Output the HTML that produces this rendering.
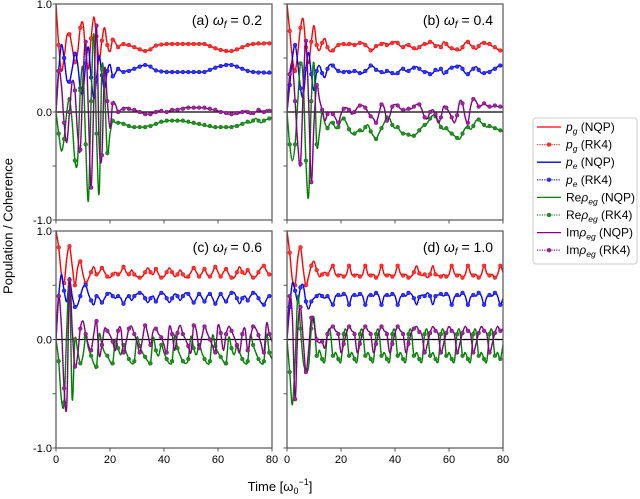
<!DOCTYPE html>
<html><head><meta charset="utf-8"><style>
body{margin:0;background:#fff;}
svg{display:block;font-family:"Liberation Sans","DejaVu Sans",sans-serif;}
</style></head><body>
<svg id="chart" width="640" height="499" viewBox="0 0 640 499">
<text x="8" y="226" transform="rotate(-90 8 226)" text-anchor="middle" dominant-baseline="central" font-size="13" fill="#000">Population / Coherence</text>
<text x="280" y="491" text-anchor="middle" font-size="13" fill="#000">Time [ω<tspan font-size="9" dy="3">0</tspan><tspan font-size="9" dy="-9">−1</tspan><tspan dy="6">]</tspan></text>
<g id="panels"></g>
<g id="legend"></g>
</svg>
<script>
const times=[];for(let i=0;i<=80;i++)times.push(i);
const panelLabels=["(a) ","(b) ","(c) ","(d) "];
const omegaValues=["0.2","0.4","0.6","1.0"];
const yTickLabels=["-1.0","0.0","1.0"];
const yTickValues=[-1,-0.5,0,0.5,1];
const xTickValues=[0,20,40,60,80];
const seriesNames=["pg","pe","re","im"];

const aPg=[1,.62,.38,.5,.7,.72,.6,.46,.55,.78,.82,.55,.4,.68,.88,.7,.48,.66,.78,.62,.56,.67,.64,.6,.62,.63,.62,.62,.61,.6,.59,.58,.57,.565,.57,.58,.6,.615,.62,.625,.625,.63,.63,.63,.63,.63,.63,.63,.63,.63,.63,.63,.63,.63,.63,.63,.62,.61,.6,.59,.58,.575,.57,.565,.56,.565,.57,.58,.59,.6,.61,.62,.625,.63,.63,.635,.63,.635,.64,.635,.64];
const aPe=[0,.38,.62,.5,.3,.28,.4,.54,.45,.22,.18,.45,.6,.32,.12,.3,.52,.34,.22,.38,.44,.33,.36,.4,.38,.37,.38,.38,.39,.4,.41,.42,.43,.435,.43,.42,.4,.385,.38,.375,.375,.37,.37,.37,.37,.37,.37,.37,.37,.37,.37,.37,.37,.37,.37,.37,.38,.39,.4,.41,.42,.425,.43,.435,.44,.435,.43,.42,.41,.4,.39,.38,.375,.37,.37,.365,.37,.365,.36,.365,.36];
const aRe=[0,-.2,-.36,-.25,0,.12,-.1,-.45,-.45,.2,.4,-.3,-.82,.1,.72,-.2,-.75,.4,.2,-.38,-.2,-.08,-.1,-.1,-.1,-.11,-.12,-.13,-.14,-.14,-.14,-.14,-.14,-.14,-.13,-.13,-.12,-.11,-.1,-.09,-.09,-.08,-.08,-.08,-.08,-.08,-.08,-.08,-.09,-.09,-.1,-.1,-.11,-.11,-.12,-.12,-.13,-.13,-.14,-.14,-.14,-.14,-.14,-.14,-.14,-.14,-.13,-.13,-.12,-.11,-.1,-.09,-.1,-.08,-.06,-.08,-.1,-.08,-.07,-.06,-.05];
const aIm=[0,.38,.25,-.1,-.28,0,.28,.2,-.2,-.35,.3,.65,0,-.7,.1,.8,-.3,-.4,.4,.1,-.15,.08,.07,0,.02,.03,.04,.03,.02,.02,.01,0,-.01,-.02,-.02,-.02,-.01,0,.01,.01,0,0,.01,.02,.02,.02,.03,.03,.04,.04,.04,.04,.04,.04,.04,.04,.03,.03,.02,.02,.01,0,0,-.01,-.02,-.02,-.02,-.01,-.01,0,.01,0,-.02,-.01,0,.02,.01,0,.02,.01,.02];

const bPg=[1,.75,.5,.38,.55,.78,.86,.6,.45,.65,.8,.62,.57,.64,.68,.6,.56,.57,.6,.62,.63,.63,.62,.63,.63,.62,.63,.64,.64,.62,.6,.57,.58,.61,.62,.63,.64,.62,.63,.64,.65,.64,.61,.6,.62,.62,.6,.59,.58,.6,.62,.63,.63,.65,.64,.61,.62,.6,.65,.63,.6,.59,.58,.58,.57,.6,.64,.65,.62,.6,.58,.61,.64,.64,.63,.63,.61,.6,.58,.57,.57];
const bPe=[0,.25,.5,.62,.45,.22,.14,.4,.55,.35,.2,.38,.43,.36,.32,.4,.44,.43,.4,.38,.37,.37,.38,.37,.37,.38,.37,.36,.36,.38,.4,.43,.42,.39,.38,.37,.36,.38,.37,.36,.35,.36,.39,.4,.38,.38,.4,.41,.42,.4,.38,.37,.37,.35,.36,.39,.38,.4,.35,.37,.4,.41,.42,.42,.43,.4,.36,.35,.38,.4,.42,.39,.36,.36,.37,.37,.39,.4,.42,.43,.43];
const bRe=[0,-.3,-.45,-.3,.1,.45,.3,-.45,-.78,.1,.45,-.3,-.2,0,-.1,-.15,-.1,-.1,-.15,-.14,-.08,-.06,-.1,-.16,-.2,-.2,-.18,-.17,-.18,-.14,-.12,-.18,-.22,-.25,-.2,-.15,-.1,-.05,-.06,-.12,-.15,-.14,-.18,-.2,-.2,-.21,-.22,-.22,-.2,-.17,-.14,-.12,-.1,-.06,-.03,-.04,-.08,-.14,-.16,-.15,-.18,-.2,-.22,-.24,-.25,-.2,-.15,-.14,-.16,-.13,-.08,-.07,-.1,-.12,-.14,-.13,-.14,-.15,-.16,-.17,-.18];
const bIm=[0,.35,.44,.1,-.3,-.48,.2,.66,.1,-.65,-.1,.25,.12,.02,-.08,-.02,0,-.02,-.06,-.1,-.02,.03,.04,.02,-.02,0,.04,.06,.06,.04,0,-.04,-.06,-.1,-.02,.07,.04,-.08,-.04,.05,.07,.06,.03,.02,.02,.03,.03,.05,.07,.07,.02,-.05,-.06,0,.02,-.02,-.1,-.05,.05,.04,0,-.05,-.1,-.03,.1,.08,-.05,-.1,.05,.12,.1,.05,.06,.08,.06,.05,.05,.06,.05,.05,.04];

const cPg=[1,.85,.6,.52,.75,.86,.68,.5,.66,.72,.6,.52,.56,.62,.67,.6,.62,.66,.62,.58,.57,.6,.62,.6,.62,.67,.62,.6,.64,.6,.58,.57,.58,.62,.66,.62,.6,.65,.6,.57,.58,.62,.66,.62,.58,.6,.64,.6,.57,.58,.62,.66,.62,.58,.61,.65,.6,.58,.62,.67,.62,.58,.62,.65,.6,.57,.57,.62,.67,.62,.6,.64,.6,.57,.58,.62,.66,.68,.63,.6,.6];
const cPe=[0,.4,.6,.45,.35,.55,.4,.3,.32,.4,.48,.5,.42,.36,.32,.4,.38,.34,.38,.42,.43,.4,.38,.4,.38,.33,.38,.4,.36,.4,.42,.43,.42,.38,.34,.38,.4,.35,.4,.43,.42,.38,.34,.38,.42,.4,.36,.4,.43,.42,.38,.34,.38,.42,.39,.35,.4,.42,.38,.33,.38,.42,.38,.35,.4,.43,.43,.38,.33,.38,.4,.36,.4,.43,.42,.38,.34,.32,.37,.4,.4];
const cRe=[0,-.2,-.55,-.58,.1,.55,-.55,0,-.1,-.22,-.15,.02,-.08,-.15,-.22,-.25,.05,-.05,-.12,-.15,-.2,-.22,0,-.08,-.14,-.05,-.12,-.18,-.22,-.2,.02,-.06,-.12,-.16,-.2,-.22,.02,-.1,-.15,-.05,-.12,-.18,-.22,-.2,.04,-.08,-.15,-.2,-.22,-.18,.03,-.08,-.14,-.05,-.12,-.18,-.22,-.2,.04,-.06,-.12,-.16,-.2,-.22,.02,-.08,-.14,-.06,-.12,-.18,-.22,-.2,.04,-.05,-.12,-.18,-.22,-.2,.05,-.12,-.18];
const cIm=[0,.4,.12,-.45,-.6,.55,.1,-.25,-.15,.1,.17,.05,-.05,-.1,.05,.17,-.15,-.05,.1,.08,.04,-.02,-.1,.08,.1,-.12,-.02,.1,.12,.05,-.02,-.12,0,.13,.05,-.05,.08,.1,.05,.02,-.05,-.12,.12,.05,-.1,.06,.13,.05,0,-.06,-.12,.13,.08,-.08,.02,.12,.06,0,-.06,-.12,.13,.06,-.1,.05,.12,.08,.02,-.05,-.12,.05,.1,-.1,.02,.12,.1,.04,-.04,-.12,.15,.05,-.02];

const dPg=[1,.8,.55,.5,.75,.85,.65,.5,.58,.68,.72,.64,.58,.6,.62,.6,.64,.68,.6,.59,.6,.58,.6,.68,.6,.59,.6,.58,.6,.68,.6,.59,.6,.57,.6,.68,.6,.59,.6,.58,.6,.68,.61,.59,.6,.57,.58,.62,.68,.61,.59,.6,.57,.6,.68,.6,.59,.58,.6,.58,.6,.68,.61,.59,.6,.57,.6,.68,.61,.59,.6,.57,.6,.68,.61,.59,.6,.57,.6,.68,.62];
const dPe=[0,.3,.52,.45,.35,.48,.5,.35,.28,.35,.38,.4,.42,.4,.38,.4,.36,.32,.4,.41,.4,.42,.4,.32,.4,.41,.4,.42,.4,.32,.4,.41,.4,.43,.4,.32,.4,.41,.4,.42,.4,.32,.39,.41,.4,.43,.42,.38,.32,.39,.41,.4,.43,.4,.32,.4,.41,.42,.4,.42,.4,.32,.39,.41,.4,.43,.4,.32,.39,.41,.4,.43,.4,.32,.39,.41,.4,.43,.4,.32,.38];
const dRe=[0,-.3,-.6,-.2,.4,.1,-.2,-.28,-.25,.1,.2,-.15,-.1,-.18,-.2,.05,.08,-.15,-.12,-.18,-.2,.05,.08,-.15,-.12,-.18,-.2,.05,.08,-.15,-.12,-.18,-.2,.05,.08,-.15,-.12,-.18,-.2,.05,.08,-.15,-.12,-.18,-.2,.05,.08,-.15,-.12,-.18,-.2,.05,.08,-.15,-.12,-.18,-.2,.05,.08,-.15,-.12,-.18,-.2,.05,.08,-.15,-.12,-.18,-.2,.05,.08,-.15,-.12,-.18,-.2,.05,.08,-.15,-.12,-.18,-.05];
const dIm=[0,.4,.2,-.55,.1,.3,0,-.3,-.1,.2,.15,0,-.03,-.02,-.08,.05,.1,.12,.08,.05,-.12,-.04,.06,.12,.08,.05,-.12,-.04,.06,.12,.08,.05,-.12,-.04,.06,.12,.08,.05,-.12,-.04,.06,.12,.08,.05,-.12,-.04,.06,.1,.12,.07,.04,-.12,-.04,.06,.12,.08,.05,-.12,-.04,.06,.12,.08,.05,-.12,-.04,.06,.12,.08,.05,-.12,-.04,.06,.12,.08,.05,-.12,-.04,.06,.12,.08,.1];

const panelData=[[aPg,aPe,aRe,aIm],[bPg,bPe,bRe,bIm],[cPg,cPe,cRe,cIm],[dPg,dPe,dRe,dIm]];
const colors=["#ff0000","#0000ff","#008000","#800080"];
const rkColors=["#ff3333","#3333ff","#2a8a2a","#9a2a9a"];
const geo=[[56,4,216,216],[287,4,216,216],[56,231,216,217],[287,231,216,217]];
const NS="http://www.w3.org/2000/svg";
function mk(tag,attrs,parent){const e=document.createElementNS(NS,tag);for(const k in attrs)e.setAttribute(k,attrs[k]);parent.appendChild(e);return e;}
function smoothPath(pts){let d="M"+pts[0][0].toFixed(2)+","+pts[0][1].toFixed(2);
 for(let i=0;i<pts.length-1;i++){const p0=pts[Math.max(0,i-1)],p1=pts[i],p2=pts[i+1],p3=pts[Math.min(pts.length-1,i+2)];
 const c1=[p1[0]+(p2[0]-p0[0])/6,p1[1]+(p2[1]-p0[1])/6],c2=[p2[0]-(p3[0]-p1[0])/6,p2[1]-(p3[1]-p1[1])/6];
 d+="C"+c1[0].toFixed(2)+","+c1[1].toFixed(2)+" "+c2[0].toFixed(2)+","+c2[1].toFixed(2)+" "+p2[0].toFixed(2)+","+p2[1].toFixed(2);}
 return d;}
const panelsG=document.getElementById("panels");
geo.forEach((g,pi)=>{
 const [x0,y0,w,h]=g;
 const xs=t=>x0+t/80*w, ys=v=>y0+(1-v)/2*h;
 const pg=mk("g",{},panelsG);
 
 
 const clipId="clip"+pi;
 const cp=mk("clipPath",{id:clipId},pg);mk("rect",{x:x0,y:y0,width:w,height:h},cp);
 const plot=mk("g",{"clip-path":"url(#"+clipId+")"},pg);
 const zl=mk("line",{x1:x0,x2:x0+w,y1:ys(0),y2:ys(0),stroke:"#000","stroke-width":1.3},plot);
 
 
 panelData[pi].forEach((arr,si)=>{
  const n=Math.min(arr.length,times.length);
  const pts=[];for(let i=0;i<n;i++)pts.push([xs(times[i]),ys(arr[i])]);
  const d=smoothPath(pts);
  const rk=mk("path",{d:d,fill:"none",stroke:rkColors[si],"stroke-width":1.6,"stroke-dasharray":"1.2 1.2",opacity:0.75},plot);
  
  
  const nq=mk("path",{d:d,fill:"none",stroke:colors[si],"stroke-width":1.3},plot);
  
  
  for(let i=1;i<n;i+=2){
   const c=mk("circle",{cx:pts[i][0],cy:pts[i][1],r:1.9,fill:rkColors[si],stroke:colors[si],"stroke-width":0.5},plot);
   
   
  }
 });
 const fr=mk("rect",{x:x0,y:y0,width:w,height:h,fill:"none",stroke:"#555","stroke-width":1.2},pg);
 
 
 yTickValues.forEach(v=>{const tk=mk("line",{x1:x0-3.5,x2:x0,y1:ys(v),y2:ys(v),stroke:"#555","stroke-width":1},pg);
  
  });
 xTickValues.forEach(t=>{const tk=mk("line",{x1:xs(t),x2:xs(t),y1:y0+h,y2:y0+h+3.5,stroke:"#555","stroke-width":1},pg);
  
  });
 if(pi%2===0){[-1,0,1].forEach((v,k)=>{const tl=mk("text",{x:x0-4,y:ys(v)+4,"text-anchor":"end","font-size":11,fill:"#000"},pg);tl.textContent=yTickLabels[k];
  
  });}
 if(pi>=2){xTickValues.forEach(t=>{const tl=mk("text",{x:xs(t),y:y0+h+15,"text-anchor":"middle","font-size":11,fill:"#000"},pg);tl.textContent=String(t);
  
  });}
 const title=mk("text",{x:x0+w-10,y:y0+21,"text-anchor":"end","font-size":14,fill:"#000"},pg);
 
 
 title.innerHTML=panelLabels[pi]+'<tspan font-style="italic">ω</tspan><tspan font-style="italic" font-size="10" dy="3">f</tspan><tspan dy="-3"> = '+omegaValues[pi]+'</tspan>';
});
// legend
const lg=document.getElementById("legend");
const box=mk("rect",{x:533,y:118,width:104,height:146,rx:3,fill:"#fff",stroke:"#ccc","stroke-width":1},lg);


const legSym=["p","p","Re","Im"];
const legSub=["g","e","eg","eg"];
for(let k=0;k<8;k++){
 const si=Math.floor(k/2),rk=k%2===1,y=127+k*17.6;
 const it=mk("g",{},lg);
 
 
 if(rk){mk("line",{x1:537,x2:561,y1:y,y2:y,stroke:rkColors[si],"stroke-width":1.3,"stroke-dasharray":"1.2 1.2"},it);mk("circle",{cx:549,cy:y,r:1.9,fill:rkColors[si],stroke:colors[si],"stroke-width":0.5},it);}
 else mk("line",{x1:537,x2:561,y1:y,y2:y,stroke:colors[si],"stroke-width":1.3},it);
 const t=mk("text",{x:566,y:y+4,"font-size":12,fill:"#000"},it);
 const pre=si>=2?legSym[si]:"";
 t.innerHTML=pre+'<tspan font-style="italic">'+(si>=2?"ρ":"p")+'</tspan><tspan font-style="italic" font-size="8.5" dy="3">'+legSub[si]+'</tspan><tspan dy="-3"> ('+(rk?"RK4":"NQP")+')</tspan>';
}
</script>
</body></html>
